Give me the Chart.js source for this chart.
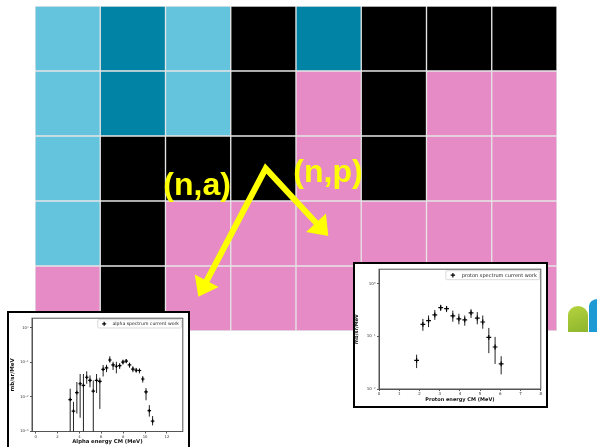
<!DOCTYPE html>
<html>
<head>
<meta charset="utf-8">
<script src="https://cdn.jsdelivr.net/npm/chart.js@4.4.1/dist/chart.umd.min.js"></script>
<style>
  html, body { margin: 0; padding: 0; background: #fff; overflow: hidden; }
  #stage { position: relative; width: 597px; height: 447px; overflow: hidden; }
  #stage canvas { display: block; }
  #nuclides { position: absolute; left: 0; top: 0; }
  .inset { position: absolute; background: #fff; border: 2px solid #000; box-sizing: border-box; overflow: hidden; }
  #alphaBox { left: 7px; top: 311px; width: 183px; height: 150px; }
  #protonBox { left: 353px; top: 262px; width: 195px; height: 146px; }
  .logo-green { position: absolute; left: 568px; top: 306px; width: 20px; height: 26px;
    background: linear-gradient(160deg, #b5d33f, #8db52c); border-radius: 10px 10px 0 0 / 9px 9px 0 0; }
  .logo-blue { position: absolute; left: 589px; top: 299px; width: 12px; height: 33px;
    background: #1d9ad4; border-radius: 9px 0 0 0 / 7px 0 0 0; }
</style>
</head>
<body>
<div id="stage">
  <canvas id="nuclides" width="597" height="447"></canvas>
  <div class="logo-green"></div>
  <div class="logo-blue"></div>
  <div class="inset" id="alphaBox"><canvas id="alphaChart" width="179" height="146"></canvas></div>
  <div class="inset" id="protonBox"><canvas id="protonChart" width="191" height="142"></canvas></div>
</div>
<script>
// ---- nuclide map: one column per neutron number, rows listed top to bottom ----
const columns = ['N0', 'N1', 'N2', 'N3', 'N4', 'N5', 'N6', 'N7'];
// decay kinds: bp = beta+ / EC, ec = long-lived proton-rich, st = stable, bm = beta-
const row1 = ['bp', 'ec', 'bp', 'st', 'ec', 'st', 'st', 'st'];
const row2 = ['bp', 'ec', 'bp', 'st', 'bm', 'st', 'bm', 'bm'];
const row3 = ['bp', 'st', 'st', 'st', 'bm', 'st', 'bm', 'bm'];
const row4 = ['bp', 'st', 'bm', 'bm', 'bm', 'bm', 'bm', 'bm'];
const row5 = ['bm', 'st', 'bm', 'bm', 'bm', 'bm', 'bm', 'bm'];
const rowsTopDown = [row1, row2, row3, row4, row5];

// reaction arrows, in cell units (u from the left edge, v from the bottom edge)
const arrowApex = [3.535, 2.5];
const naTip = [2.503, 0.528];
const npTip = [4.495, 1.462];
const reactionLabels = ['(n,a)', '(n,p)'];
const reactionLabelAnchors = [[1.966, 2.092], [3.959, 2.30]];

// ---- (n,a) alpha spectrum ----
const alphaEnergy = [3.16, 3.46, 3.77, 4.07, 4.37, 4.67, 4.97, 5.27, 5.57, 5.87, 6.17, 6.48, 6.78,
                     7.08, 7.38, 7.68, 7.98, 8.28, 8.58, 8.89, 9.19, 9.49, 9.79, 10.09, 10.39, 10.69];
const alphaXs = [0.0084, 0.0039, 0.0133, 0.024, 0.0216, 0.037, 0.030, 0.0148, 0.030, 0.028, 0.063, 0.069, 0.117,
                 0.084, 0.077, 0.080, 0.102, 0.109, 0.084, 0.064, 0.059, 0.058, 0.033, 0.0139, 0.0040, 0.0020];
const alphaXsHigh = [0.0173, 0.0072, 0.027, 0.046, 0.046, 0.055, 0.042, 0.030, 0.046, 0.036, 0.084, 0.085, 0.15,
                     0.104, 0.104, 0.095, 0.12, 0.125, 0.098, 0.077, 0.069, 0.066, 0.040, 0.018, 0.0058, 0.0028];
const alphaXsLow = [0, 0, 0.0033, 0.0025, 0, 0.024, 0.019, 0, 0.013, 0.0045, 0.039, 0.052, 0.098,
                    0.060, 0.048, 0.064, 0.086, 0.094, 0.070, 0.052, 0.050, 0.048, 0.026, 0.008, 0.0027, 0.0015];
const alphaXTicks = [0, 2, 4, 6, 8, 10, 12];
const alphaYTicks = [0.001, 0.01, 0.1, 1];
const alphaYLabels = ['10\u207B\u00B3', '10\u207B\u00B2', '10\u207B\u00B9', '10\u2070'];

// ---- (n,p) proton spectrum ----
const protonEnergy = [1.86, 2.17, 2.45, 2.76, 3.05, 3.34, 3.65, 3.95, 4.24, 4.55, 4.86, 5.13, 5.43, 5.74, 6.04];
const protonXs = [0.035, 0.17, 0.20, 0.257, 0.352, 0.337, 0.246, 0.216, 0.207, 0.28, 0.223, 0.188, 0.096, 0.063, 0.030];
const protonXsHigh = [0.045, 0.216, 0.25, 0.318, 0.40, 0.38, 0.31, 0.27, 0.25, 0.33, 0.29, 0.25, 0.145, 0.098, 0.042];
const protonXsLow = [0.025, 0.128, 0.15, 0.207, 0.305, 0.29, 0.19, 0.17, 0.16, 0.225, 0.17, 0.14, 0.048, 0.030, 0.019];
const protonXTicks = [0, 1, 2, 3, 4, 5, 6, 7, 8];
const protonYTicks = [0.01, 0.1, 1];
const protonYLabels = ['10\u207B\u00B2', '10\u207B\u00B9', '10\u2070'];

Chart.defaults.font.family = '"DejaVu Sans", sans-serif';
Chart.defaults.animation = false;

const kindColours = { bp: '#64c4de', ec: '#0083a4', st: '#000000', bm: '#e68bc5' };

// ---------- nuclide map ----------
const reactionArrows = {
  id: 'reactionArrows',
  afterDatasetsDraw(chart) {
    const { ctx, scales: { x, y } } = chart;
    const P = ([u, v]) => ({ x: x.getPixelForValue(u - 0.5), y: y.getPixelForValue(v) });
    const apex = P(arrowApex);
    const head = (tip, headLen, half) => {
      const dx = tip.x - apex.x, dy = tip.y - apex.y, L = Math.hypot(dx, dy);
      const ux = dx / L, uy = dy / L;
      const bx = tip.x - ux * headLen, by = tip.y - uy * headLen;
      ctx.beginPath();
      ctx.moveTo(tip.x, tip.y);
      ctx.lineTo(bx - uy * half, by + ux * half);
      ctx.lineTo(bx + uy * half, by - ux * half);
      ctx.closePath();
      ctx.fill();
      return { x: bx + ux * 2, y: by + uy * 2 };
    };
    ctx.save();
    ctx.fillStyle = '#ffff00';
    ctx.strokeStyle = '#ffff00';
    const baseA = head(P(naTip), 18, 13.5);
    const baseP = head(P(npTip), 18, 13.5);
    ctx.lineWidth = 6;
    ctx.lineJoin = 'miter';
    ctx.miterLimit = 10;
    ctx.beginPath();
    ctx.moveTo(baseA.x, baseA.y);
    ctx.lineTo(apex.x, apex.y);
    ctx.lineTo(baseP.x, baseP.y);
    ctx.stroke();

    ctx.font = 'bold 32px "Liberation Sans", Arial, sans-serif';
    ctx.textBaseline = 'alphabetic';
    ctx.textAlign = 'left';
    reactionLabels.forEach((t, i) => {
      const p = P(reactionLabelAnchors[i]);
      ctx.fillText(t, p.x, p.y);
    });
    ctx.restore();
  }
};

new Chart(document.getElementById('nuclides'), {
  type: 'bar',
  data: {
    labels: columns,
    datasets: rowsTopDown.slice().reverse().map((row, i) => ({
      label: 'row' + (rowsTopDown.length - i),
      data: row.map(() => 1),
      backgroundColor: row.map(k => kindColours[k]),
      borderColor: '#e4e4e4',
      borderWidth: 1,
      borderSkipped: false,
      barPercentage: 1,
      categoryPercentage: 1
    }))
  },
  options: {
    responsive: false,
    events: [],
    layout: { padding: { left: 35, top: 6, right: 40, bottom: 116 } },
    plugins: { legend: { display: false }, tooltip: { enabled: false } },
    scales: {
      x: { display: false, stacked: true },
      y: { display: false, stacked: true, min: 0, max: 5 }
    }
  },
  plugins: [reactionArrows]
});

// ---------- spectrum insets ----------
const plotFrame = {
  id: 'plotFrame',
  beforeDatasetsDraw(chart) {
    const { ctx, chartArea: a } = chart;
    ctx.save();
    ctx.strokeStyle = '#555';
    ctx.lineWidth = 1;
    ctx.strokeRect(a.left, a.top, a.right - a.left, a.bottom - a.top);
    ctx.restore();
  }
};

function errorBars(low, high) {
  return {
    id: 'errorBars',
    beforeDatasetsDraw(chart) {
      const { ctx, chartArea: a, scales: { x, y } } = chart;
      const pts = chart.data.datasets[0].data;
      ctx.save();
      ctx.beginPath();
      ctx.rect(a.left, a.top, a.right - a.left, a.bottom - a.top);
      ctx.clip();
      ctx.strokeStyle = '#222';
      ctx.lineWidth = 1;
      pts.forEach((p, i) => {
        const px = x.getPixelForValue(p.x);
        const top = y.getPixelForValue(high[i]);
        const bot = low[i] > 0 ? y.getPixelForValue(low[i]) : a.bottom + 1;
        ctx.beginPath();
        ctx.moveTo(px, top);
        ctx.lineTo(px, bot);
        ctx.stroke();
      });
      ctx.restore();
    }
  };
}

const legendBox = {
  id: 'legendBox',
  afterDraw(chart, args, opts) {
    const { ctx, chartArea: a } = chart;
    const label = chart.data.datasets[0].label;
    const s = opts.size;
    ctx.save();
    ctx.font = s + 'px "DejaVu Sans", sans-serif';
    const tw = ctx.measureText(label).width;
    const w = tw + 3.7 * s, h = 1.8 * s;
    const x0 = a.right - opts.inset - w, y0 = a.top + opts.inset;
    ctx.beginPath();
    ctx.roundRect(x0, y0, w, h, 1);
    ctx.fillStyle = 'rgba(255,255,255,0.85)';
    ctx.fill();
    ctx.strokeStyle = '#d0d0d0';
    ctx.lineWidth = 0.8;
    ctx.stroke();
    const mx = x0 + 1.4 * s, my = y0 + h / 2, r = opts.marker;
    ctx.strokeStyle = '#000';
    ctx.lineWidth = 1.2;
    ctx.beginPath();
    ctx.moveTo(mx - r, my); ctx.lineTo(mx + r, my);
    ctx.moveTo(mx, my - r); ctx.lineTo(mx, my + r);
    ctx.stroke();
    ctx.fillStyle = '#222';
    ctx.textBaseline = 'middle';
    ctx.fillText(label, x0 + 3.2 * s, my + 0.3);
    ctx.restore();
  }
};

function spectrumChart(id, o) {
  return new Chart(document.getElementById(id), {
    type: 'scatter',
    data: {
      datasets: [{
        label: o.label,
        data: o.energy.map((e, i) => ({ x: e, y: o.xs[i] })),
        pointStyle: 'cross',
        pointRadius: o.marker,
        pointBorderWidth: 1.2,
        borderColor: '#000',
        backgroundColor: '#000'
      }]
    },
    options: {
      responsive: false,
      events: [],
      layout: { padding: { left: 0, top: o.padTop, right: o.padRight, bottom: 0 } },
      plugins: {
        legend: { display: false },
        tooltip: { enabled: false },
        legendBox: { size: o.legendSize, inset: o.legendInset, marker: o.legendMarker }
      },
      scales: {
        x: {
          type: 'linear', min: o.xMin, max: o.xMax,
          afterBuildTicks: s => { s.ticks = o.xTicks.map(v => ({ value: v })); },
          afterFit: s => { s.height = o.xAxisHeight; },
          ticks: { font: { size: o.tickSize }, color: '#333', padding: 1, maxRotation: 0, autoSkip: false,
                   callback: v => String(v) },
          grid: { drawOnChartArea: false, tickLength: 2, color: '#555' },
          border: { color: '#555' },
          title: { display: true, text: o.xTitle, color: '#111',
                   font: { size: o.xTitleSize, weight: 'bold' }, padding: { top: 0, bottom: o.xTitlePad } }
        },
        y: {
          type: 'logarithmic', min: o.yMin, max: o.yMax,
          afterBuildTicks: s => { s.ticks = o.yTicks.map(v => ({ value: v })); },
          afterFit: s => { s.width = o.yAxisWidth; },
          ticks: { font: { size: o.tickSize }, color: '#333', padding: 1.5, autoSkip: false,
                   callback: v => o.yLabels[o.yTicks.indexOf(v)] },
          grid: { drawOnChartArea: false, tickLength: 2, color: '#555' },
          border: { color: '#555' },
          title: { display: true, text: 'mb/sr/MeV', color: '#111',
                   font: { size: o.yTitleSize, weight: 'bold', lineHeight: 1.2 }, padding: { top: o.yTitlePad, bottom: 0 } }
        }
      }
    },
    plugins: [plotFrame, errorBars(o.low, o.high), legendBox]
  });
}

spectrumChart('alphaChart', {
  label: 'alpha spectrum current work',
  energy: alphaEnergy, xs: alphaXs, low: alphaXsLow, high: alphaXsHigh,
  xTicks: alphaXTicks, yTicks: alphaYTicks, yLabels: alphaYLabels,
  xMin: -0.33, xMax: 13.45, yMin: 0.001, yMax: 1.89,
  xTitle: 'Alpha energy CM (MeV)',
  padTop: 4, padRight: 3, xAxisHeight: 27.5, yAxisWidth: 23,
  tickSize: 3.8, xTitleSize: 5.3, xTitlePad: 13.8, yTitleSize: 5.5, yTitlePad: 0.7,
  marker: 1.8, legendSize: 4.6, legendInset: 1.5, legendMarker: 2
});

spectrumChart('protonChart', {
  label: 'proton spectrum current work',
  energy: protonEnergy, xs: protonXs, low: protonXsLow, high: protonXsHigh,
  xTicks: protonXTicks, yTicks: protonYTicks, yLabels: protonYLabels,
  xMin: 0, xMax: 8, yMin: 0.01, yMax: 1.9,
  xTitle: 'Proton energy CM (MeV)',
  padTop: 2, padRight: 3, xAxisHeight: 17, yAxisWidth: 24,
  tickSize: 4, xTitleSize: 5, xTitlePad: 3.4, yTitleSize: 5, yTitlePad: -0.8,
  marker: 2.4, legendSize: 5, legendInset: 1.5, legendMarker: 2.2
});
</script>
</body>
</html>
